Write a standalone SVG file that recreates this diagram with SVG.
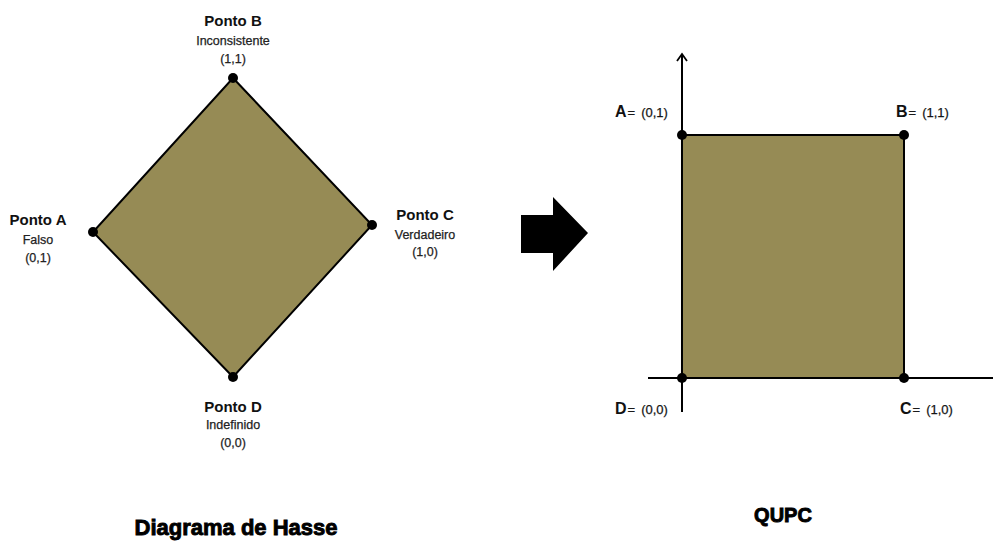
<svg xmlns="http://www.w3.org/2000/svg" width="993" height="543" viewBox="0 0 993 543">
<defs>
<style>
text{font-family:"Liberation Sans","Open Sans",Arial,sans-serif;fill:#111}
.t{font-weight:bold;font-size:15px;text-anchor:middle}
.s{font-size:12.5px;text-anchor:middle;fill:#222;stroke:#222;stroke-width:0.25}
.big{font-weight:bold;font-size:22px;text-anchor:middle;fill:#000;stroke:#000;stroke-width:0.9}
.L{font-weight:bold;font-size:16px}
.v{font-size:13px;stroke:#222;stroke-width:0.25}
.shape{fill:#968B55;stroke:#000;stroke-width:2}
.dot{fill:#000}
.ax{stroke:#000;stroke-width:2;fill:none}
</style>
<marker id="ah" markerWidth="12" markerHeight="12" refX="9" refY="6" orient="auto" markerUnits="userSpaceOnUse" viewBox="0 0 12 12">
<path d="M2,1 L9,6 L2,11" fill="none" stroke="#000" stroke-width="1.8"/>
</marker>
</defs>
<rect width="993" height="543" fill="#fff"/>
<g id="hasse">
<polygon class="shape" points="233,78 372,225 233,377 93,232"/>
</g>
<g id="pontoB">
<circle class="dot" cx="233" cy="78" r="5"/>
<text class="t" x="233" y="26">Ponto B</text>
<text class="s" x="233" y="45">Inconsistente</text>
<text class="s" x="233" y="63">(1,1)</text>
</g>
<g id="pontoA">
<circle class="dot" cx="93" cy="232" r="5"/>
<text class="t" x="38" y="225">Ponto A</text>
<text class="s" x="38" y="244">Falso</text>
<text class="s" x="38" y="262">(0,1)</text>
</g>
<g id="pontoC">
<circle class="dot" cx="372" cy="225" r="5"/>
<text class="t" x="425" y="220">Ponto C</text>
<text class="s" x="425" y="239">Verdadeiro</text>
<text class="s" x="425" y="256">(1,0)</text>
</g>
<g id="pontoD">
<circle class="dot" cx="233" cy="377" r="5"/>
<text class="t" x="233" y="412">Ponto D</text>
<text class="s" x="233" y="429">Indefinido</text>
<text class="s" x="233" y="447">(0,0)</text>
</g>
<g id="transform-arrow">
<polygon points="521,215 553,215 553,197 588,233 553,271 553,253 521,253" fill="#000"/>
</g>
<g id="connectors">
<line class="ax" x1="682" y1="412" x2="682" y2="54" marker-end="url(#ah)"/>
<line class="ax" x1="648" y1="378" x2="993" y2="378"/>
</g>
<g id="qupc">
<rect class="shape" x="682" y="135" width="222" height="243"/>
</g>
<g id="A">
<circle class="dot" cx="682" cy="135" r="5"/>
<text x="615" y="117"><tspan class="L">A</tspan><tspan class="v" dx="1">=</tspan><tspan class="v" dx="6">(0,1)</tspan></text>
</g>
<g id="B">
<circle class="dot" cx="904" cy="135" r="5"/>
<text x="896" y="117"><tspan class="L">B</tspan><tspan class="v" dx="1">=</tspan><tspan class="v" dx="6">(1,1)</tspan></text>
</g>
<g id="D">
<circle class="dot" cx="682" cy="378" r="5"/>
<text x="615" y="414"><tspan class="L">D</tspan><tspan class="v" dx="1">=</tspan><tspan class="v" dx="6">(0,0)</tspan></text>
</g>
<g id="C">
<circle class="dot" cx="904" cy="378" r="5"/>
<text x="900" y="414"><tspan class="L">C</tspan><tspan class="v" dx="1">=</tspan><tspan class="v" dx="6">(1,0)</tspan></text>
</g>
<g id="titles">
<text class="big" x="236" y="535">Diagrama de Hasse</text>
<text class="big" x="783" y="522" style="font-size:20px">QUPC</text>
</g>
</svg>
